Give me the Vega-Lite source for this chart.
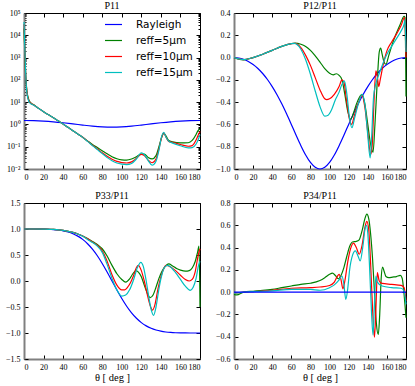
{
"$schema": "https://vega.github.io/schema/vega-lite/v6.json",
"padding": {"left": 4, "top": 0, "right": 4, "bottom": 0},
"background": "white",
"config": {
 "view": {"stroke": "black", "strokeWidth": 1},
 "axis": {"labelFont": "Liberation Serif", "labelFontSize": 8, "labelColor": "black", "titleFont": "Liberation Serif", "titleFontSize": 10.5, "titleFontWeight": "normal", "titleColor": "black", "grid": false, "domainColor": "#808080", "domainWidth": 2, "tickColor": "black", "tickSize": -4, "tickWidth": 1, "labelPadding": 8, "labelOverlap": false},
 "title": {"font": "Liberation Serif", "fontSize": 10, "fontWeight": "normal", "offset": -2, "color": "black"},
 "line": {"strokeWidth": 1.2, "interpolate": "monotone"}
},
"columns": 2,
"spacing": 34,
"bounds": "flush",
"resolve": {"legend": {"color": "independent"}},
"datasets": {
"p11": [
{"t":0,"s":"A","v":1.5},{"t":10,"s":"A","v":1.477},{"t":20,"s":"A","v":1.412},{"t":30,"s":"A","v":1.3125},{"t":40,"s":"A","v":1.19},{"t":50,"s":"A","v":1.06},{"t":60,"s":"A","v":0.9375},{"t":70,"s":"A","v":0.838},{"t":80,"s":"A","v":0.773},{"t":90,"s":"A","v":0.75},{"t":100,"s":"A","v":0.773},{"t":110,"s":"A","v":0.838},{"t":120,"s":"A","v":0.9375},{"t":130,"s":"A","v":1.06},{"t":140,"s":"A","v":1.19},{"t":150,"s":"A","v":1.3125},{"t":160,"s":"A","v":1.412},{"t":170,"s":"A","v":1.477},{"t":180,"s":"A","v":1.5},
{"t":0,"s":"B","v":20000},{"t":1,"s":"B","v":1000},{"t":2,"s":"B","v":100},{"t":3,"s":"B","v":31.6},{"t":5,"s":"B","v":12.6},{"t":7,"s":"B","v":9.33},{"t":10,"s":"B","v":7.59},{"t":15,"s":"B","v":5.25},{"t":20,"s":"B","v":3.72},{"t":25,"s":"B","v":2.69},{"t":30,"s":"B","v":2.0},{"t":35,"s":"B","v":1.445},{"t":40,"s":"B","v":1.047},{"t":45,"s":"B","v":0.741},{"t":50,"s":"B","v":0.525},{"t":55,"s":"B","v":0.372},{"t":60,"s":"B","v":0.263},{"t":65,"s":"B","v":0.182},{"t":70,"s":"B","v":0.126},{"t":75,"s":"B","v":0.0912},{"t":80,"s":"B","v":0.0661},{"t":85,"s":"B","v":0.0479},{"t":90,"s":"B","v":0.0355},{"t":95,"s":"B","v":0.0288},{"t":100,"s":"B","v":0.0257},{"t":105,"s":"B","v":0.0251},{"t":110,"s":"B","v":0.0282},{"t":115,"s":"B","v":0.0355},{"t":120,"s":"B","v":0.0468},{"t":123,"s":"B","v":0.0468},{"t":127,"s":"B","v":0.0331},{"t":131,"s":"B","v":0.0282},{"t":135,"s":"B","v":0.0398},{"t":138,"s":"B","v":0.1},{"t":141,"s":"B","v":0.282},{"t":143,"s":"B","v":0.398},{"t":145,"s":"B","v":0.316},{"t":148,"s":"B","v":0.191},{"t":152,"s":"B","v":0.166},{"t":160,"s":"B","v":0.148},{"t":168,"s":"B","v":0.151},{"t":172,"s":"B","v":0.191},{"t":176,"s":"B","v":0.355},{"t":178,"s":"B","v":0.525},{"t":180,"s":"B","v":0.631},
{"t":0,"s":"C","v":31623},{"t":1,"s":"C","v":1259},{"t":2,"s":"C","v":100},{"t":3,"s":"C","v":28.2},{"t":5,"s":"C","v":11.2},{"t":7,"s":"C","v":8.91},{"t":10,"s":"C","v":7.41},{"t":15,"s":"C","v":5.25},{"t":20,"s":"C","v":3.72},{"t":25,"s":"C","v":2.69},{"t":30,"s":"C","v":2.0},{"t":35,"s":"C","v":1.445},{"t":40,"s":"C","v":1.047},{"t":45,"s":"C","v":0.741},{"t":50,"s":"C","v":0.525},{"t":55,"s":"C","v":0.372},{"t":60,"s":"C","v":0.263},{"t":65,"s":"C","v":0.178},{"t":70,"s":"C","v":0.117},{"t":75,"s":"C","v":0.0794},{"t":80,"s":"C","v":0.0537},{"t":85,"s":"C","v":0.0372},{"t":90,"s":"C","v":0.0275},{"t":95,"s":"C","v":0.0219},{"t":100,"s":"C","v":0.0195},{"t":105,"s":"C","v":0.0186},{"t":110,"s":"C","v":0.0209},{"t":115,"s":"C","v":0.0302},{"t":120,"s":"C","v":0.0457},{"t":123,"s":"C","v":0.0398},{"t":127,"s":"C","v":0.0251},{"t":131,"s":"C","v":0.0191},{"t":135,"s":"C","v":0.0282},{"t":138,"s":"C","v":0.0794},{"t":141,"s":"C","v":0.282},{"t":143,"s":"C","v":0.417},{"t":145,"s":"C","v":0.282},{"t":148,"s":"C","v":0.174},{"t":152,"s":"C","v":0.158},{"t":160,"s":"C","v":0.126},{"t":168,"s":"C","v":0.105},{"t":172,"s":"C","v":0.112},{"t":176,"s":"C","v":0.2},{"t":178,"s":"C","v":0.316},{"t":180,"s":"C","v":0.479},
{"t":0,"s":"D","v":39811},{"t":1,"s":"D","v":1585},{"t":2,"s":"D","v":100},{"t":3,"s":"D","v":25.1},{"t":5,"s":"D","v":10.5},{"t":7,"s":"D","v":8.51},{"t":10,"s":"D","v":7.24},{"t":15,"s":"D","v":5.25},{"t":20,"s":"D","v":3.72},{"t":25,"s":"D","v":2.69},{"t":30,"s":"D","v":2.0},{"t":35,"s":"D","v":1.445},{"t":40,"s":"D","v":1.047},{"t":45,"s":"D","v":0.741},{"t":50,"s":"D","v":0.525},{"t":55,"s":"D","v":0.372},{"t":60,"s":"D","v":0.263},{"t":65,"s":"D","v":0.174},{"t":70,"s":"D","v":0.112},{"t":75,"s":"D","v":0.0741},{"t":80,"s":"D","v":0.049},{"t":85,"s":"D","v":0.0331},{"t":90,"s":"D","v":0.0234},{"t":95,"s":"D","v":0.0186},{"t":100,"s":"D","v":0.0166},{"t":105,"s":"D","v":0.0158},{"t":110,"s":"D","v":0.0178},{"t":115,"s":"D","v":0.0282},{"t":120,"s":"D","v":0.0537},{"t":123,"s":"D","v":0.0447},{"t":127,"s":"D","v":0.024},{"t":131,"s":"D","v":0.0148},{"t":135,"s":"D","v":0.0224},{"t":138,"s":"D","v":0.0708},{"t":141,"s":"D","v":0.316},{"t":143,"s":"D","v":0.437},{"t":145,"s":"D","v":0.282},{"t":148,"s":"D","v":0.178},{"t":152,"s":"D","v":0.145},{"t":160,"s":"D","v":0.11},{"t":168,"s":"D","v":0.0891},{"t":172,"s":"D","v":0.0912},{"t":176,"s":"D","v":0.132},{"t":178,"s":"D","v":0.2},{"t":180,"s":"D","v":0.355}
],
"p12": [
{"t":0,"s":"A","v":0},{"t":5,"s":"A","v":-0.0038},{"t":10,"s":"A","v":-0.0153},{"t":15,"s":"A","v":-0.0347},{"t":20,"s":"A","v":-0.0621},{"t":25,"s":"A","v":-0.0981},{"t":30,"s":"A","v":-0.1429},{"t":35,"s":"A","v":-0.1969},{"t":40,"s":"A","v":-0.2604},{"t":45,"s":"A","v":-0.3333},{"t":50,"s":"A","v":-0.4152},{"t":55,"s":"A","v":-0.5049},{"t":60,"s":"A","v":-0.6},{"t":65,"s":"A","v":-0.6969},{"t":70,"s":"A","v":-0.7905},{"t":75,"s":"A","v":-0.8744},{"t":80,"s":"A","v":-0.9415},{"t":85,"s":"A","v":-0.9849},{"t":90,"s":"A","v":-1},{"t":95,"s":"A","v":-0.9849},{"t":100,"s":"A","v":-0.9415},{"t":105,"s":"A","v":-0.8744},{"t":110,"s":"A","v":-0.7905},{"t":115,"s":"A","v":-0.6969},{"t":120,"s":"A","v":-0.6},{"t":125,"s":"A","v":-0.5049},{"t":130,"s":"A","v":-0.4152},{"t":135,"s":"A","v":-0.3333},{"t":140,"s":"A","v":-0.2604},{"t":145,"s":"A","v":-0.1969},{"t":150,"s":"A","v":-0.1429},{"t":155,"s":"A","v":-0.0981},{"t":160,"s":"A","v":-0.0621},{"t":165,"s":"A","v":-0.0347},{"t":170,"s":"A","v":-0.0153},{"t":175,"s":"A","v":-0.0038},{"t":180,"s":"A","v":0},
{"t":0,"s":"B","v":0},{"t":5,"s":"B","v":-0.015},{"t":10,"s":"B","v":-0.02},{"t":15,"s":"B","v":-0.012},{"t":20,"s":"B","v":0.0},{"t":30,"s":"B","v":0.03},{"t":40,"s":"B","v":0.065},{"t":50,"s":"B","v":0.1},{"t":60,"s":"B","v":0.125},{"t":64,"s":"B","v":0.13},{"t":70,"s":"B","v":0.12},{"t":75,"s":"B","v":0.1},{"t":80,"s":"B","v":0.065},{"t":85,"s":"B","v":0.015},{"t":90,"s":"B","v":-0.04},{"t":95,"s":"B","v":-0.1},{"t":100,"s":"B","v":-0.14},{"t":104,"s":"B","v":-0.155},{"t":107,"s":"B","v":-0.145},{"t":110,"s":"B","v":-0.16},{"t":113,"s":"B","v":-0.2},{"t":116,"s":"B","v":-0.33},{"t":119,"s":"B","v":-0.48},{"t":122,"s":"B","v":-0.555},{"t":125,"s":"B","v":-0.5},{"t":128,"s":"B","v":-0.42},{"t":131,"s":"B","v":-0.36},{"t":134,"s":"B","v":-0.33},{"t":137,"s":"B","v":-0.42},{"t":140,"s":"B","v":-0.6},{"t":143,"s":"B","v":-0.78},{"t":145.5,"s":"B","v":-0.85},{"t":147.5,"s":"B","v":-0.6},{"t":150,"s":"B","v":-0.2},{"t":152,"s":"B","v":0.05},{"t":153.5,"s":"B","v":0.085},{"t":155,"s":"B","v":0.03},{"t":157,"s":"B","v":-0.04},{"t":159,"s":"B","v":-0.06},{"t":162,"s":"B","v":0.02},{"t":166,"s":"B","v":0.13},{"t":170,"s":"B","v":0.22},{"t":174,"s":"B","v":0.3},{"t":178,"s":"B","v":0.37},{"t":179,"s":"B","v":0.36},{"t":180,"s":"B","v":-0.35},
{"t":0,"s":"C","v":0},{"t":5,"s":"C","v":-0.012},{"t":10,"s":"C","v":-0.018},{"t":20,"s":"C","v":0.0},{"t":30,"s":"C","v":0.03},{"t":40,"s":"C","v":0.065},{"t":50,"s":"C","v":0.1},{"t":60,"s":"C","v":0.125},{"t":64,"s":"C","v":0.128},{"t":70,"s":"C","v":0.09},{"t":75,"s":"C","v":0.02},{"t":80,"s":"C","v":-0.07},{"t":85,"s":"C","v":-0.18},{"t":90,"s":"C","v":-0.29},{"t":95,"s":"C","v":-0.37},{"t":97,"s":"C","v":-0.378},{"t":100,"s":"C","v":-0.37},{"t":105,"s":"C","v":-0.33},{"t":110,"s":"C","v":-0.26},{"t":113,"s":"C","v":-0.2},{"t":115,"s":"C","v":-0.22},{"t":118,"s":"C","v":-0.4},{"t":121,"s":"C","v":-0.56},{"t":123,"s":"C","v":-0.6},{"t":126,"s":"C","v":-0.52},{"t":130,"s":"C","v":-0.41},{"t":134,"s":"C","v":-0.34},{"t":137,"s":"C","v":-0.45},{"t":140,"s":"C","v":-0.67},{"t":143,"s":"C","v":-0.87},{"t":144.5,"s":"C","v":-0.8},{"t":146.5,"s":"C","v":-0.4},{"t":148.5,"s":"C","v":-0.12},{"t":150,"s":"C","v":-0.17},{"t":151.5,"s":"C","v":-0.26},{"t":153,"s":"C","v":-0.2},{"t":156,"s":"C","v":-0.07},{"t":160,"s":"C","v":0.06},{"t":165,"s":"C","v":0.14},{"t":170,"s":"C","v":0.21},{"t":175,"s":"C","v":0.29},{"t":178.5,"s":"C","v":0.36},{"t":180,"s":"C","v":0.0},
{"t":0,"s":"D","v":0},{"t":5,"s":"D","v":-0.012},{"t":10,"s":"D","v":-0.018},{"t":20,"s":"D","v":0.0},{"t":30,"s":"D","v":0.03},{"t":40,"s":"D","v":0.065},{"t":50,"s":"D","v":0.1},{"t":60,"s":"D","v":0.125},{"t":63,"s":"D","v":0.127},{"t":70,"s":"D","v":0.075},{"t":75,"s":"D","v":-0.02},{"t":80,"s":"D","v":-0.15},{"t":85,"s":"D","v":-0.3},{"t":90,"s":"D","v":-0.44},{"t":95,"s":"D","v":-0.525},{"t":98,"s":"D","v":-0.52},{"t":102,"s":"D","v":-0.47},{"t":106,"s":"D","v":-0.38},{"t":110,"s":"D","v":-0.31},{"t":113,"s":"D","v":-0.24},{"t":115.5,"s":"D","v":-0.21},{"t":118,"s":"D","v":-0.32},{"t":121,"s":"D","v":-0.55},{"t":123.5,"s":"D","v":-0.63},{"t":126,"s":"D","v":-0.55},{"t":130,"s":"D","v":-0.42},{"t":134,"s":"D","v":-0.33},{"t":137,"s":"D","v":-0.42},{"t":140,"s":"D","v":-0.7},{"t":142.5,"s":"D","v":-0.9},{"t":144,"s":"D","v":-0.72},{"t":146,"s":"D","v":-0.36},{"t":148,"s":"D","v":-0.25},{"t":150,"s":"D","v":-0.19},{"t":153,"s":"D","v":-0.12},{"t":156,"s":"D","v":-0.05},{"t":160,"s":"D","v":0.03},{"t":165,"s":"D","v":0.1},{"t":170,"s":"D","v":0.17},{"t":175,"s":"D","v":0.24},{"t":178,"s":"D","v":0.3},{"t":179,"s":"D","v":0.34},{"t":180,"s":"D","v":0.05}
],
"p33": [
{"t":0,"s":"A","v":1},{"t":5,"s":"A","v":1.0},{"t":10,"s":"A","v":0.9999},{"t":15,"s":"A","v":0.9994},{"t":20,"s":"A","v":0.9981},{"t":25,"s":"A","v":0.9952},{"t":30,"s":"A","v":0.9897},{"t":35,"s":"A","v":0.9804},{"t":40,"s":"A","v":0.9655},{"t":45,"s":"A","v":0.9428},{"t":50,"s":"A","v":0.9097},{"t":55,"s":"A","v":0.8632},{"t":60,"s":"A","v":0.8},{"t":65,"s":"A","v":0.7172},{"t":70,"s":"A","v":0.6124},{"t":75,"s":"A","v":0.4851},{"t":80,"s":"A","v":0.3371},{"t":85,"s":"A","v":0.173},{"t":90,"s":"A","v":0},{"t":95,"s":"A","v":-0.173},{"t":100,"s":"A","v":-0.3371},{"t":105,"s":"A","v":-0.4851},{"t":110,"s":"A","v":-0.6124},{"t":115,"s":"A","v":-0.7172},{"t":120,"s":"A","v":-0.8},{"t":125,"s":"A","v":-0.8632},{"t":130,"s":"A","v":-0.9097},{"t":135,"s":"A","v":-0.9428},{"t":140,"s":"A","v":-0.9655},{"t":145,"s":"A","v":-0.9804},{"t":150,"s":"A","v":-0.9897},{"t":155,"s":"A","v":-0.9952},{"t":160,"s":"A","v":-0.9981},{"t":165,"s":"A","v":-0.9994},{"t":170,"s":"A","v":-0.9999},{"t":175,"s":"A","v":-1.0},{"t":180,"s":"A","v":-1},
{"t":0,"s":"B","v":1},{"t":10,"s":"B","v":1},{"t":20,"s":"B","v":0.998},{"t":30,"s":"B","v":0.992},{"t":40,"s":"B","v":0.975},{"t":50,"s":"B","v":0.935},{"t":55,"s":"B","v":0.905},{"t":60,"s":"B","v":0.865},{"t":65,"s":"B","v":0.815},{"t":70,"s":"B","v":0.76},{"t":75,"s":"B","v":0.7},{"t":80,"s":"B","v":0.62},{"t":85,"s":"B","v":0.48},{"t":90,"s":"B","v":0.3},{"t":95,"s":"B","v":0.14},{"t":100,"s":"B","v":0.03},{"t":104,"s":"B","v":-0.02},{"t":108,"s":"B","v":0.04},{"t":111,"s":"B","v":0.13},{"t":114.5,"s":"B","v":0.2},{"t":117,"s":"B","v":0.17},{"t":120,"s":"B","v":0.08},{"t":123,"s":"B","v":-0.08},{"t":126,"s":"B","v":-0.23},{"t":129,"s":"B","v":-0.32},{"t":132,"s":"B","v":-0.27},{"t":135,"s":"B","v":-0.12},{"t":138,"s":"B","v":0.05},{"t":141,"s":"B","v":0.18},{"t":144,"s":"B","v":0.27},{"t":148,"s":"B","v":0.33},{"t":152,"s":"B","v":0.29},{"t":156,"s":"B","v":0.24},{"t":160,"s":"B","v":0.21},{"t":165,"s":"B","v":0.19},{"t":169,"s":"B","v":0.2},{"t":172,"s":"B","v":0.25},{"t":175,"s":"B","v":0.37},{"t":177.5,"s":"B","v":0.55},{"t":179,"s":"B","v":0.67},{"t":180,"s":"B","v":-0.5},
{"t":0,"s":"C","v":1},{"t":10,"s":"C","v":1},{"t":20,"s":"C","v":0.998},{"t":30,"s":"C","v":0.992},{"t":40,"s":"C","v":0.975},{"t":50,"s":"C","v":0.935},{"t":55,"s":"C","v":0.905},{"t":60,"s":"C","v":0.865},{"t":65,"s":"C","v":0.81},{"t":70,"s":"C","v":0.75},{"t":75,"s":"C","v":0.69},{"t":80,"s":"C","v":0.58},{"t":85,"s":"C","v":0.38},{"t":90,"s":"C","v":0.12},{"t":95,"s":"C","v":-0.08},{"t":100,"s":"C","v":-0.17},{"t":103,"s":"C","v":-0.17},{"t":106,"s":"C","v":-0.12},{"t":109,"s":"C","v":-0.03},{"t":112,"s":"C","v":0.1},{"t":115,"s":"C","v":0.26},{"t":117,"s":"C","v":0.3},{"t":120,"s":"C","v":0.2},{"t":123,"s":"C","v":0.0},{"t":126,"s":"C","v":-0.25},{"t":129,"s":"C","v":-0.47},{"t":131.5,"s":"C","v":-0.56},{"t":134,"s":"C","v":-0.45},{"t":137,"s":"C","v":-0.15},{"t":140,"s":"C","v":0.08},{"t":143,"s":"C","v":0.24},{"t":145,"s":"C","v":0.3},{"t":150,"s":"C","v":0.27},{"t":155,"s":"C","v":0.2},{"t":160,"s":"C","v":0.11},{"t":165,"s":"C","v":0.03},{"t":169,"s":"C","v":0.0},{"t":172,"s":"C","v":0.03},{"t":175,"s":"C","v":0.17},{"t":178,"s":"C","v":0.48},{"t":180,"s":"C","v":0.62},
{"t":0,"s":"D","v":1},{"t":10,"s":"D","v":1},{"t":20,"s":"D","v":0.998},{"t":30,"s":"D","v":0.992},{"t":40,"s":"D","v":0.975},{"t":50,"s":"D","v":0.935},{"t":55,"s":"D","v":0.905},{"t":60,"s":"D","v":0.86},{"t":65,"s":"D","v":0.8},{"t":70,"s":"D","v":0.74},{"t":75,"s":"D","v":0.67},{"t":80,"s":"D","v":0.55},{"t":85,"s":"D","v":0.32},{"t":90,"s":"D","v":0.05},{"t":95,"s":"D","v":-0.17},{"t":100,"s":"D","v":-0.29},{"t":104,"s":"D","v":-0.27},{"t":108,"s":"D","v":-0.17},{"t":112,"s":"D","v":0.02},{"t":116,"s":"D","v":0.26},{"t":119.5,"s":"D","v":0.36},{"t":122,"s":"D","v":0.28},{"t":125,"s":"D","v":0.0},{"t":128,"s":"D","v":-0.35},{"t":130.5,"s":"D","v":-0.58},{"t":132.5,"s":"D","v":-0.66},{"t":135,"s":"D","v":-0.5},{"t":138,"s":"D","v":-0.15},{"t":141,"s":"D","v":0.12},{"t":144,"s":"D","v":0.27},{"t":147,"s":"D","v":0.3},{"t":151,"s":"D","v":0.25},{"t":155,"s":"D","v":0.16},{"t":160,"s":"D","v":0.03},{"t":165,"s":"D","v":-0.1},{"t":170,"s":"D","v":-0.18},{"t":173,"s":"D","v":-0.12},{"t":176,"s":"D","v":0.05},{"t":178.5,"s":"D","v":0.3},{"t":180,"s":"D","v":0.38}
],
"p34": [
{"t":0,"s":"B","v":-0.02},{"t":3,"s":"B","v":-0.025},{"t":10,"s":"B","v":0.0},{"t":20,"s":"B","v":0.008},{"t":30,"s":"B","v":0.015},{"t":40,"s":"B","v":0.025},{"t":50,"s":"B","v":0.04},{"t":60,"s":"B","v":0.055},{"t":70,"s":"B","v":0.07},{"t":80,"s":"B","v":0.08},{"t":90,"s":"B","v":0.105},{"t":95,"s":"B","v":0.13},{"t":100,"s":"B","v":0.16},{"t":103,"s":"B","v":0.17},{"t":106,"s":"B","v":0.15},{"t":109,"s":"B","v":0.12},{"t":112,"s":"B","v":0.15},{"t":115,"s":"B","v":0.22},{"t":118,"s":"B","v":0.32},{"t":121,"s":"B","v":0.41},{"t":124,"s":"B","v":0.45},{"t":128,"s":"B","v":0.455},{"t":131,"s":"B","v":0.47},{"t":134,"s":"B","v":0.55},{"t":137,"s":"B","v":0.66},{"t":139,"s":"B","v":0.7},{"t":141,"s":"B","v":0.66},{"t":143,"s":"B","v":0.52},{"t":145,"s":"B","v":0.3},{"t":147,"s":"B","v":0.0},{"t":149,"s":"B","v":-0.28},{"t":151,"s":"B","v":-0.38},{"t":152.5,"s":"B","v":-0.2},{"t":154,"s":"B","v":0.12},{"t":155.5,"s":"B","v":0.225},{"t":157,"s":"B","v":0.19},{"t":159,"s":"B","v":0.14},{"t":162,"s":"B","v":0.13},{"t":166,"s":"B","v":0.135},{"t":170,"s":"B","v":0.14},{"t":174,"s":"B","v":0.15},{"t":176,"s":"B","v":0.125},{"t":178,"s":"B","v":-0.02},{"t":180,"s":"B","v":-0.23},
{"t":0,"s":"C","v":-0.01},{"t":10,"s":"C","v":0.0},{"t":20,"s":"C","v":0.005},{"t":40,"s":"C","v":0.017},{"t":60,"s":"C","v":0.035},{"t":80,"s":"C","v":0.04},{"t":90,"s":"C","v":0.046},{"t":100,"s":"C","v":0.06},{"t":105,"s":"C","v":0.09},{"t":108,"s":"C","v":0.14},{"t":110,"s":"C","v":0.16},{"t":112,"s":"C","v":0.11},{"t":114,"s":"C","v":0.03},{"t":116,"s":"C","v":0.1},{"t":119,"s":"C","v":0.27},{"t":122,"s":"C","v":0.39},{"t":125,"s":"C","v":0.44},{"t":128,"s":"C","v":0.4},{"t":131,"s":"C","v":0.34},{"t":134,"s":"C","v":0.42},{"t":137,"s":"C","v":0.58},{"t":139,"s":"C","v":0.635},{"t":141,"s":"C","v":0.56},{"t":143,"s":"C","v":0.25},{"t":145,"s":"C","v":-0.15},{"t":147,"s":"C","v":-0.405},{"t":148.5,"s":"C","v":-0.15},{"t":150,"s":"C","v":0.175},{"t":152,"s":"C","v":0.1},{"t":155,"s":"C","v":0.078},{"t":165,"s":"C","v":0.07},{"t":175,"s":"C","v":0.06},{"t":178,"s":"C","v":0.04},{"t":180,"s":"C","v":-0.08},
{"t":0,"s":"D","v":-0.01},{"t":10,"s":"D","v":0.0},{"t":20,"s":"D","v":0.005},{"t":40,"s":"D","v":0.012},{"t":60,"s":"D","v":0.025},{"t":80,"s":"D","v":0.025},{"t":90,"s":"D","v":0.017},{"t":100,"s":"D","v":0.04},{"t":105,"s":"D","v":0.065},{"t":110,"s":"D","v":0.11},{"t":113,"s":"D","v":0.145},{"t":115,"s":"D","v":0.07},{"t":117,"s":"D","v":-0.065},{"t":119,"s":"D","v":0.03},{"t":121,"s":"D","v":0.2},{"t":124,"s":"D","v":0.33},{"t":127,"s":"D","v":0.37},{"t":130,"s":"D","v":0.32},{"t":132,"s":"D","v":0.28},{"t":135,"s":"D","v":0.42},{"t":137,"s":"D","v":0.56},{"t":138.5,"s":"D","v":0.6},{"t":140,"s":"D","v":0.53},{"t":142,"s":"D","v":0.2},{"t":144,"s":"D","v":-0.2},{"t":145.5,"s":"D","v":-0.385},{"t":147,"s":"D","v":-0.1},{"t":148.5,"s":"D","v":0.145},{"t":150,"s":"D","v":0.09},{"t":155,"s":"D","v":0.055},{"t":165,"s":"D","v":0.04},{"t":175,"s":"D","v":0.035},{"t":178,"s":"D","v":0.01},{"t":180,"s":"D","v":-0.11},
{"t":0,"s":"A","v":0},{"t":180,"s":"A","v":0}
]
},
"concat": [
{
 "title": "P11", "width": 176, "height": 156,
 "data": {"name": "p11"},
 "layer": [
  {"mark": "line", "encoding": {
   "x": {"field": "t", "type": "quantitative", "scale": {"domain": [0, 180], "nice": false}, "axis": {"orient": "bottom", "values": [0,20,40,60,80,100,120,140,160,180], "title": null}},
   "y": {"field": "v", "type": "quantitative", "scale": {"type": "log", "domain": [0.01, 100000], "nice": false}, "axis": {"orient": "left", "title": null,
     "values": [0.01,0.02,0.03,0.04,0.05,0.06,0.07,0.08,0.09,0.1,0.2,0.3,0.4,0.5,0.6,0.7,0.8,0.9,1,2,3,4,5,6,7,8,9,10,20,30,40,50,60,70,80,90,100,200,300,400,500,600,700,800,900,1000,2000,3000,4000,5000,6000,7000,8000,9000,10000,20000,30000,40000,50000,60000,70000,80000,90000,100000],
     "labelExpr": "abs(log(datum.value)/LN10 - round(log(datum.value)/LN10)) < 0.01 ? '10' + ['⁻²','⁻¹','⁰','¹','²','³','⁴','⁵'][round(log(datum.value)/LN10) + 2] : ''",
     "tickSize": {"condition": {"test": "abs(log(datum.value)/LN10 - round(log(datum.value)/LN10)) > 0.01", "value": -2}, "value": -4}}},
   "color": {"field": "s", "type": "nominal", "scale": {"domain": ["A","B","C","D"], "range": ["#0000ff","#008000","#ff0000","#00bfbf"]},
     "legend": {"orient": "none", "legendX": 80, "legendY": 2, "title": null, "symbolType": "stroke", "symbolSize": 289, "symbolStrokeWidth": 1.5, "labelOffset": 13, "rowPadding": 1, "labelColor": "black",
       "labelExpr": "datum.value == 'A' ? 'Rayleigh' : datum.value == 'B' ? 'reff=5μm' : datum.value == 'C' ? 'reff=10μm' : 'reff=15μm'",
       "labelFont": "DejaVu Sans", "labelFontSize": 10.5,
       "encode": {"labels": {"update": {"font": {"signal": "datum.value == 'A' ? 'Liberation Serif' : 'DejaVu Sans'"}, "fontSize": {"signal": "datum.value == 'A' ? 13.5 : 10.5"}}}}}}
  }},
  {"mark": {"type": "line", "opacity": 0}, "encoding": {
   "x": {"field": "t", "type": "quantitative", "scale": {"domain": [0, 180], "nice": false}, "axis": {"orient": "top", "values": [0,20,40,60,80,100,120,140,160,180], "labels": false, "domain": false, "title": null}},
   "y": {"field": "v", "type": "quantitative", "scale": {"type": "log", "domain": [0.01, 100000], "nice": false}, "axis": {"orient": "right", "title": null, "labels": false, "domain": false,
     "values": [0.01,0.02,0.03,0.04,0.05,0.06,0.07,0.08,0.09,0.1,0.2,0.3,0.4,0.5,0.6,0.7,0.8,0.9,1,2,3,4,5,6,7,8,9,10,20,30,40,50,60,70,80,90,100,200,300,400,500,600,700,800,900,1000,2000,3000,4000,5000,6000,7000,8000,9000,10000,20000,30000,40000,50000,60000,70000,80000,90000,100000],
     "tickSize": {"condition": {"test": "abs(log(datum.value)/LN10 - round(log(datum.value)/LN10)) > 0.01", "value": -2}, "value": -4}}},
   "detail": {"field": "s"}
  }}
 ],
 "resolve": {"axis": {"x": "independent", "y": "independent"}}
},
{
 "title": "P12/P11", "width": 172, "height": 156,
 "data": {"name": "p12"},
 "layer": [
  {"mark": "line", "encoding": {
   "x": {"field": "t", "type": "quantitative", "scale": {"domain": [0, 180], "nice": false}, "axis": {"orient": "bottom", "values": [0,20,40,60,80,100,120,140,160,180], "title": null}},
   "y": {"field": "v", "type": "quantitative", "scale": {"domain": [-1, 0.4], "nice": false, "zero": false}, "axis": {"orient": "left", "values": [-1,-0.8,-0.6,-0.4,-0.2,0,0.2,0.4], "format": ".1f", "title": null}},
   "color": {"field": "s", "type": "nominal", "scale": {"domain": ["A","B","C","D"], "range": ["#0000ff","#008000","#ff0000","#00bfbf"]}, "legend": null}
  }},
  {"mark": {"type": "line", "opacity": 0}, "encoding": {
   "x": {"field": "t", "type": "quantitative", "scale": {"domain": [0, 180], "nice": false}, "axis": {"orient": "top", "values": [0,20,40,60,80,100,120,140,160,180], "labels": false, "domain": false, "title": null}},
   "y": {"field": "v", "type": "quantitative", "scale": {"domain": [-1, 0.4], "nice": false, "zero": false}, "axis": {"orient": "right", "values": [-1,-0.8,-0.6,-0.4,-0.2,0,0.2,0.4], "labels": false, "domain": false, "title": null}},
   "detail": {"field": "s"}
  }}
 ],
 "resolve": {"axis": {"x": "independent", "y": "independent"}}
},
{
 "title": "P33/P11", "width": 176, "height": 156,
 "data": {"name": "p33"},
 "layer": [
  {"mark": "line", "encoding": {
   "x": {"field": "t", "type": "quantitative", "scale": {"domain": [0, 180], "nice": false}, "axis": {"orient": "bottom", "values": [0,20,40,60,80,100,120,140,160,180], "title": "θ [ deg ]", "titlePadding": 1}},
   "y": {"field": "v", "type": "quantitative", "scale": {"domain": [-1.5, 1.5], "nice": false, "zero": false}, "axis": {"orient": "left", "values": [-1.5,-1,-0.5,0,0.5,1,1.5], "format": ".1f", "title": null}},
   "color": {"field": "s", "type": "nominal", "scale": {"domain": ["A","B","C","D"], "range": ["#0000ff","#008000","#ff0000","#00bfbf"]}, "legend": null}
  }},
  {"mark": {"type": "line", "opacity": 0}, "encoding": {
   "x": {"field": "t", "type": "quantitative", "scale": {"domain": [0, 180], "nice": false}, "axis": {"orient": "top", "values": [0,20,40,60,80,100,120,140,160,180], "labels": false, "domain": false, "title": null}},
   "y": {"field": "v", "type": "quantitative", "scale": {"domain": [-1.5, 1.5], "nice": false, "zero": false}, "axis": {"orient": "right", "values": [-1.5,-1,-0.5,0,0.5,1,1.5], "labels": false, "domain": false, "title": null}},
   "detail": {"field": "s"}
  }}
 ],
 "resolve": {"axis": {"x": "independent", "y": "independent"}}
},
{
 "title": "P34/P11", "width": 172, "height": 156,
 "data": {"name": "p34"},
 "layer": [
  {"mark": "line", "encoding": {
   "x": {"field": "t", "type": "quantitative", "scale": {"domain": [0, 180], "nice": false}, "axis": {"orient": "bottom", "values": [0,20,40,60,80,100,120,140,160,180], "title": "θ [ deg ]", "titlePadding": 1}},
   "y": {"field": "v", "type": "quantitative", "scale": {"domain": [-0.6, 0.8], "nice": false, "zero": false}, "axis": {"orient": "left", "values": [-0.6,-0.4,-0.2,0,0.2,0.4,0.6,0.8], "format": ".1f", "title": null}},
   "color": {"field": "s", "type": "nominal", "scale": {"domain": ["A","B","C","D"], "range": ["#0000ff","#008000","#ff0000","#00bfbf"]}, "legend": null}
  }},
  {"mark": {"type": "line", "opacity": 0}, "encoding": {
   "x": {"field": "t", "type": "quantitative", "scale": {"domain": [0, 180], "nice": false}, "axis": {"orient": "top", "values": [0,20,40,60,80,100,120,140,160,180], "labels": false, "domain": false, "title": null}},
   "y": {"field": "v", "type": "quantitative", "scale": {"domain": [-0.6, 0.8], "nice": false, "zero": false}, "axis": {"orient": "right", "values": [-0.6,-0.4,-0.2,0,0.2,0.4,0.6,0.8], "labels": false, "domain": false, "title": null}},
   "detail": {"field": "s"}
  }}
 ],
 "resolve": {"axis": {"x": "independent", "y": "independent"}}
}
]
}
